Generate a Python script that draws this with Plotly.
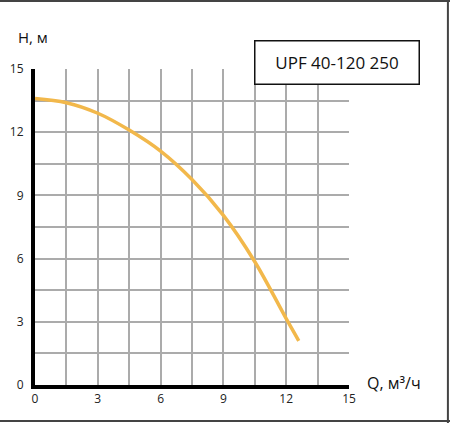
import plotly.graph_objects as go

# pump curve
q = [0, 1.5, 3, 4.5, 6, 7.5, 9, 10.5, 12, 12.6]
h = [13.6, 13.4, 12.9, 12.1, 11.1, 9.75, 8.05, 5.85, 3.15, 2.1]

ticks = [0, 3, 6, 9, 12, 15]
model = "UPF 40-120 250"

fig = go.Figure()
fig.add_trace(go.Scatter(x=q, y=h, mode="lines",
                         line=dict(color="#F2B84B", width=3.5, shape="spline"),
                         hoverinfo="skip"))

axis_common = dict(
    range=[0, 15], tickvals=ticks, showgrid=True, gridcolor="#ABABAB", gridwidth=1.5,
    minor=dict(dtick=1.5, showgrid=True, gridcolor="#ABABAB", gridwidth=1.5),
    showline=True, linecolor="black", linewidth=4, mirror=False,
    zeroline=False, automargin=False,
    ticks="", tickfont=dict(size=12, color="#222222"), fixedrange=True,
)

fig.update_layout(
    width=450, height=423,
    margin=dict(l=35, r=101, t=69, b=38),
    paper_bgcolor="white", plot_bgcolor="white",
    font=dict(family="Open Sans", color="#111111"),
    showlegend=False,
    xaxis=dict(axis_common, ticklabelstandoff=0),
    yaxis=dict(axis_common, ticklabelstandoff=5),
    annotations=[
        dict(text="H, м", xref="paper", yref="paper", x=-0.06, y=1.064,
             xanchor="left", yanchor="bottom", showarrow=False, font=dict(size=15)),
        dict(text="Q, м³/ч", xref="paper", yref="paper", x=1.05, y=0.005,
             xanchor="left", yanchor="middle", showarrow=False, font=dict(size=16)),
        dict(text=model, xref="paper", yref="paper", x=0.963, y=1.019,
             xanchor="center", yanchor="middle", showarrow=False, font=dict(size=17),
             bgcolor="white", bordercolor="#111111", borderwidth=1.5,
             width=161, height=40),
    ],
    shapes=[
        # frame of the picture (top, right, bottom)
        dict(type="line", xref="paper", yref="paper", x0=-0.12, x1=1.33, y0=1.215, y1=1.215,
             line=dict(color="#444444", width=2)),
        dict(type="line", xref="paper", yref="paper", x0=1.315, x1=1.315, y0=-0.13, y1=1.22,
             line=dict(color="#444444", width=2)),
        dict(type="line", xref="paper", yref="paper", x0=-0.12, x1=1.33, y0=-0.114, y1=-0.114,
             line=dict(color="#444444", width=2)),
    ],
)

# drop the default page margin so the figure sits at the top-left corner
fig.write_html("out.html", config={"displayModeBar": False},
               post_script="document.body.style.margin='0';")
